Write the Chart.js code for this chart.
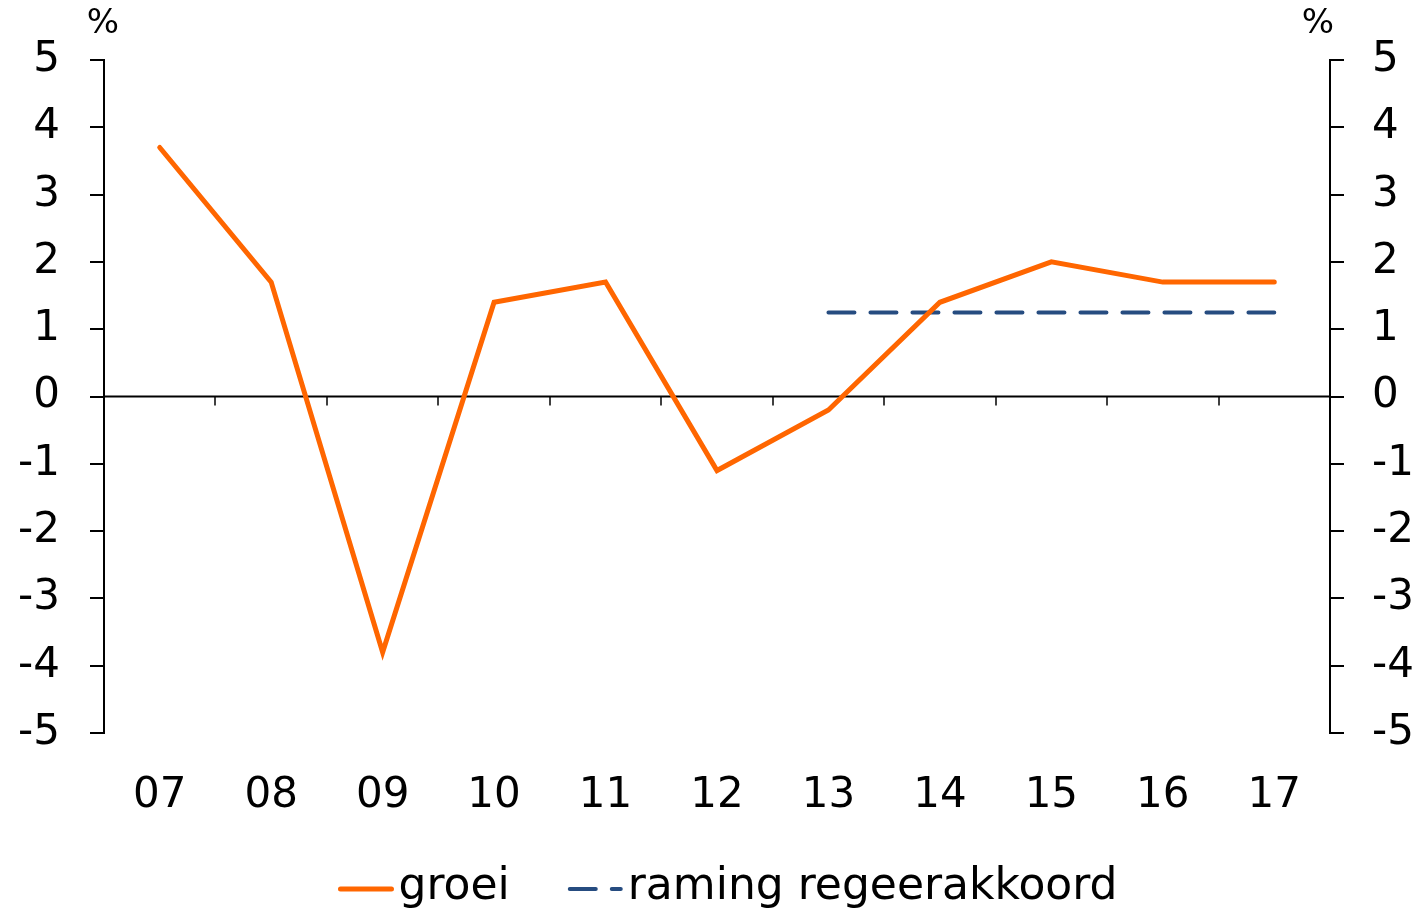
<!DOCTYPE html>
<html>
<head>
<meta charset="utf-8">
<script src="https://cdn.jsdelivr.net/npm/chart.js@4/dist/chart.umd.min.js"></script>
<style>
  body { margin: 0; background: #fff; }
  #wrap { width: 1423px; height: 916px; }
</style>
</head>
<body>
<div id="wrap"><canvas id="mycanvas" width="1423" height="916"></canvas></div>
<script>
var years = ['07', '08', '09', '10', '11', '12', '13', '14', '15', '16', '17'];
var groei = [3.7, 1.7, -3.8, 1.4, 1.7, -1.1, -0.2, 1.4, 2.0, 1.7, 1.7];
var raming = [null, null, null, null, null, null, 1.25, 1.25, 1.25, 1.25, 1.25];
var yTicks = [5, 4, 3, 2, 1, 0, -1, -2, -3, -4, -5];

var fontFam = "'DejaVu Sans', Verdana, sans-serif";

// zero line, small x ticks between categories, % labels and the legend
var extras = {
    id: 'extras',
    beforeDatasetsDraw: function(chart) {
        var ctx = chart.ctx;
        var x = chart.scales.x;
        var y = chart.scales.y;
        var y0 = y.getPixelForValue(0);
        ctx.save();
        ctx.strokeStyle = '#000';
        ctx.lineWidth = 2;
        ctx.beginPath();
        ctx.moveTo(chart.chartArea.left, y0);
        ctx.lineTo(chart.chartArea.right, y0);
        ctx.stroke();
        ctx.lineWidth = 1.5;
        for (var i = 0; i < years.length - 1; i++) {
            var px = Math.round((x.getPixelForValue(i) + x.getPixelForValue(i + 1)) / 2);
            ctx.beginPath();
            ctx.moveTo(px, y0);
            ctx.lineTo(px, y0 + 9);
            ctx.stroke();
        }
        ctx.restore();
    },
    afterDraw: function(chart) {
        var ctx = chart.ctx;
        ctx.save();
        ctx.fillStyle = '#000';
        ctx.font = '34px ' + fontFam;
        ctx.textAlign = 'center';
        ctx.textBaseline = 'middle';
        ctx.fillText('%', 103, 24);
        ctx.fillText('%', 1318, 24);

        // legend
        ctx.font = '44px ' + fontFam;
        ctx.textAlign = 'left';
        var sample = 55, gapText = 5, gapItem = 58;
        var ds = chart.data.datasets;
        var total = 0;
        ds.forEach(function(d, i) {
            total += sample + gapText + ctx.measureText(d.label).width;
            if (i < ds.length - 1) total += gapItem;
        });
        var lx = 728 - total / 2;
        var ly = 889;
        ds.forEach(function(d) {
            ctx.save();
            ctx.strokeStyle = d.borderColor;
            ctx.lineWidth = d.borderWidth;
            ctx.lineCap = 'round';
            ctx.setLineDash(d.borderDash || []);
            ctx.beginPath();
            ctx.moveTo(lx + 2, ly);
            ctx.lineTo(lx + sample - 2, ly);
            ctx.stroke();
            ctx.restore();
            lx += sample + gapText;
            ctx.fillText(d.label, lx, ly - 1);
            lx += ctx.measureText(d.label).width + gapItem;
        });
        ctx.restore();
    }
};

var ctx = document.getElementById('mycanvas');
var lineChart = new Chart(ctx, {
    type: 'line',
    data: {
        labels: years,
        datasets: [
            {
                label: 'groei',
                data: groei,
                borderColor: '#FF6600',
                backgroundColor: '#FF6600',
                borderWidth: 5,
                pointRadius: 0,
                tension: 0,
                borderCapStyle: 'round',
                yAxisID: 'y'
            },
            {
                label: 'raming regeerakkoord',
                data: raming,
                borderColor: '#264C80',
                backgroundColor: '#264C80',
                borderWidth: 4,
                borderDash: [26, 16],
                borderCapStyle: 'round',
                pointRadius: 0,
                tension: 0,
                yAxisID: 'y'
            }
        ]
    },
    options: {
        responsive: false,
        animation: false,
        layout: { padding: { top: 60, left: 0, right: 0, bottom: 0 } },
        plugins: {
            tooltip: { enabled: false },
            legend: { display: false }
        },
        scales: {
            x: {
                type: 'category',
                offset: true,
                grid: { display: false },
                border: { display: false },
                ticks: {
                    color: '#000',
                    font: { family: fontFam, size: 42 },
                    padding: 30,
                    maxRotation: 0,
                    autoSkip: false
                },
                afterFit: function(scale) { scale.height = 183; }
            },
            y: {
                position: 'left',
                min: -5,
                max: 5,
                afterBuildTicks: function(scale) {
                    scale.ticks = yTicks.map(function(v) { return { value: v }; });
                },
                grid: { drawOnChartArea: false, tickLength: 14, color: '#000', lineWidth: 2 },
                border: { display: true, color: '#000', width: 2 },
                ticks: {
                    color: '#000',
                    font: { family: fontFam, size: 42 },
                    padding: 30
                },
                afterFit: function(scale) { scale.width = 104; }
            },
            y2: {
                position: 'right',
                min: -5,
                max: 5,
                afterBuildTicks: function(scale) {
                    scale.ticks = yTicks.map(function(v) { return { value: v }; });
                },
                grid: { drawOnChartArea: false, tickLength: 14, color: '#000', lineWidth: 2 },
                border: { display: true, color: '#000', width: 2 },
                ticks: {
                    color: '#000',
                    font: { family: fontFam, size: 42 },
                    padding: 28
                },
                afterFit: function(scale) { scale.width = 93; }
            }
        }
    },
    plugins: [extras]
});
</script>
</body>
</html>
